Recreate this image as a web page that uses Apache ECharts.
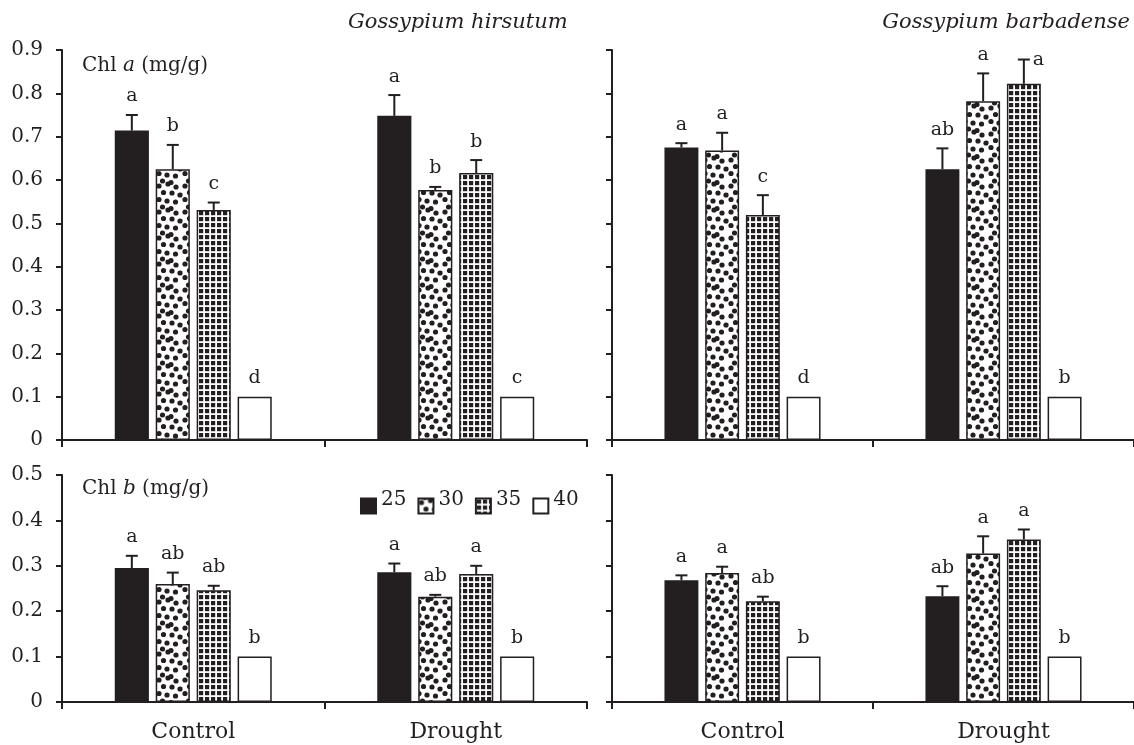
<!DOCTYPE html>
<html>
<head>
<meta charset="utf-8">
<script src="https://cdn.jsdelivr.net/npm/echarts@6/dist/echarts.min.js"></script>
<style>
html,body{margin:0;padding:0;background:#fff;}
#chart{width:1134px;height:745px;}
</style>
</head>
<body>
<div id="chart"></div>
<script>
// ---------- data ----------
const categories = ['Control', 'Drought'];
const temps = ['25', '30', '35', '40'];
const chlATicks = [0, 0.9, 0.1];   // min, max, interval
const chlBTicks = [0, 0.5, 0.1];

// rows: [Control, Drought]; columns: temps 25, 30, 35, 40
const hirsutumChlA = [[0.714, 0.625, 0.531, 0.100], [0.748, 0.577, 0.616, 0.100]];
const hirsutumChlAErr = [[0.036, 0.056, 0.017, 0], [0.048, 0.007, 0.030, 0]];
const hirsutumChlALetters = [['a', 'b', 'c', 'd'], ['a', 'b', 'b', 'c']];

const barbadenseChlA = [[0.675, 0.668, 0.519, 0.100], [0.625, 0.782, 0.822, 0.100]];
const barbadenseChlAErr = [[0.010, 0.041, 0.046, 0], [0.048, 0.064, 0.056, 0]];
const barbadenseChlALetters = [['a', 'a', 'c', 'd'], ['ab', 'a', 'a', 'b']];

const hirsutumChlB = [[0.295, 0.260, 0.246, 0.100], [0.286, 0.232, 0.282, 0.100]];
const hirsutumChlBErr = [[0.027, 0.025, 0.010, 0], [0.019, 0.004, 0.018, 0]];
const hirsutumChlBLetters = [['a', 'ab', 'ab', 'b'], ['a', 'ab', 'a', 'b']];

const barbadenseChlB = [[0.268, 0.284, 0.222, 0.100], [0.233, 0.327, 0.358, 0.100]];
const barbadenseChlBErr = [[0.011, 0.014, 0.010, 0], [0.022, 0.038, 0.022, 0]];
const barbadenseChlBLetters = [['a', 'a', 'ab', 'b'], ['ab', 'a', 'a', 'b']];

// ---------- style ----------
const INK = '#231f20';
const FONT = 'DejaVu Serif';
const BAR_FRAC = 0.13;
const BAR_GAP = 0.2;
// letters drawn beside the error cap instead of above it: "panel-category-temp"
const sideLetters = {'1-1-2': true};

function dotPattern() {
  const S = 26;
  const c = document.createElement('canvas');
  c.width = S; c.height = S;
  const g = c.getContext('2d');
  g.fillStyle = '#fff'; g.fillRect(0, 0, S, S);
  g.fillStyle = INK;
  [[3, 4], [12, 2], [20, 5], [7.5, 10.5], [16, 11], [24, 13], [3, 17.5], [11, 19],
   [19.5, 20], [6.5, 25], [15, 26.5]].forEach(p => {
    for (let dx = -S; dx <= S; dx += S) for (let dy = -S; dy <= S; dy += S) {
      g.beginPath(); g.arc(p[0] + dx, p[1] + dy, 2.6, 0, Math.PI * 2); g.fill();
    }
  });
  return c;
}
function gridPattern() {
  const c = document.createElement('canvas');
  c.width = 6; c.height = 6;
  const g = c.getContext('2d');
  g.fillStyle = '#fff'; g.fillRect(0, 0, 6, 6);
  g.fillStyle = INK; g.fillRect(1, 1, 4.2, 4.2);
  return c;
}
const fills = [
  INK,
  {image: dotPattern(), repeat: 'repeat'},
  {image: gridPattern(), repeat: 'repeat'},
  '#ffffff'
];

const panels = [
  {means: hirsutumChlA, errs: hirsutumChlAErr, letters: hirsutumChlALetters, ticks: chlATicks},
  {means: barbadenseChlA, errs: barbadenseChlAErr, letters: barbadenseChlALetters, ticks: chlATicks},
  {means: hirsutumChlB, errs: hirsutumChlBErr, letters: hirsutumChlBLetters, ticks: chlBTicks},
  {means: barbadenseChlB, errs: barbadenseChlBErr, letters: barbadenseChlBLetters, ticks: chlBTicks}
];

const grids = [
  {left: 62, top: 50, width: 525, height: 390},
  {left: 612, top: 50, width: 525, height: 390},
  {left: 62, top: 475, width: 525, height: 227},
  {left: 612, top: 475, width: 525, height: 227}
];

const xAxes = grids.map((g, i) => ({
  type: 'category', gridIndex: i, data: categories, boundaryGap: true,
  axisLine: {lineStyle: {color: INK, width: 2}},
  axisTick: {show: true, alignWithLabel: false, length: 7, lineStyle: {color: INK, width: 2}},
  axisLabel: {show: i >= 2, color: INK, fontFamily: FONT, fontSize: 22, margin: 19}
}));

const yAxes = panels.map((p, i) => ({
  type: 'value', gridIndex: i, min: p.ticks[0], max: p.ticks[1], interval: p.ticks[2],
  splitLine: {show: false},
  axisLine: {show: true, lineStyle: {color: INK, width: 2}},
  axisTick: {show: true, length: 6, lineStyle: {color: INK, width: 2}},
  axisLabel: {show: i % 2 === 0, color: INK, fontFamily: FONT, fontSize: 20, margin: 19,
    formatter: v => (v === 0 ? '0' : v.toFixed(1))}
}));

const series = [];
panels.forEach((p, pi) => {
  temps.forEach((t, k) => {
    series.push({
      type: 'bar', name: t, xAxisIndex: pi, yAxisIndex: pi,
      data: p.means.map(row => row[k]),
      barWidth: (BAR_FRAC * 100) + '%', barGap: (BAR_GAP * 100) + '%',
      itemStyle: {color: fills[k], borderColor: INK, borderWidth: 1.5},
      silent: true
    });
  });
  const data = [];
  p.means.forEach((row, c) => row.forEach((m, k) => {
    data.push([c, m, m + p.errs[c][k], k]);
  }));
  series.push({
    type: 'custom', xAxisIndex: pi, yAxisIndex: pi, z: 5, silent: true, clip: false,
    data: data,
    encode: {x: 0, y: 2},
    renderItem: function (params, api) {
      const c = api.value(0), mean = api.value(1), top = api.value(2), k = api.value(3);
      const band = api.size([1, 0])[0];
      const bw = band * BAR_FRAC, gap = bw * BAR_GAP;
      const group = 4 * bw + 3 * gap;
      const cx = api.coord([c, 0])[0] - group / 2 + k * (bw + gap) + bw / 2;
      const yMean = api.coord([c, mean])[1];
      const yTop = api.coord([c, top])[1];
      const children = [];
      if (top > mean) {
        children.push({type: 'line', shape: {x1: cx, y1: yMean, x2: cx, y2: yTop},
          style: {stroke: INK, lineWidth: 2}});
        children.push({type: 'line', shape: {x1: cx - 6, y1: yTop, x2: cx + 6, y2: yTop},
          style: {stroke: INK, lineWidth: 2}});
      }
      const letter = p.letters[c][k];
      const side = sideLetters[pi + '-' + c + '-' + k];
      children.push({type: 'text', x: side ? cx + 9 : cx, y: side ? yTop + 1 : yTop - 9,
        style: {text: letter, fill: INK, font: '19px "' + FONT + '"',
          align: side ? 'left' : 'center', verticalAlign: side ? 'middle' : 'bottom'}});
      return {type: 'group', children: children};
    }
  });
});

const titleText = {color: INK, fontFamily: FONT, fontSize: 21, fontWeight: 'normal', fontStyle: 'italic'};
const chlRich = {
  n: {color: INK, fontFamily: FONT, fontSize: 20, fontWeight: 'normal'},
  i: {color: INK, fontFamily: FONT, fontSize: 20, fontWeight: 'normal', fontStyle: 'italic'}
};

const option = {
  backgroundColor: '#fff',
  animation: false,
  title: [
    {text: 'Gossypium hirsutum', left: 348, top: 12, padding: 0, textStyle: titleText},
    {text: 'Gossypium barbadense', right: 4, top: 12, padding: 0, textStyle: titleText},
    {text: '{n|Chl }{i|a}{n| (mg/g)}', left: 82, top: 56, padding: 0,
      textStyle: {fontWeight: 'normal', rich: chlRich}},
    {text: '{n|Chl }{i|b}{n| (mg/g)}', left: 82, top: 479, padding: 0,
      textStyle: {fontWeight: 'normal', rich: chlRich}}
  ],
  legend: {
    data: temps, left: 355, top: 485, icon: 'rect', itemWidth: 15, itemHeight: 15, itemGap: 11,
    selectedMode: false,
    formatter: name => '{t|' + name + '}',
    textStyle: {color: INK, fontFamily: FONT, fontSize: 20,
      rich: {t: {color: INK, fontFamily: FONT, fontSize: 20, padding: [0, 0, 12, 0]}}}
  },
  grid: grids,
  xAxis: xAxes,
  yAxis: yAxes,
  series: series
};

const chart = echarts.init(document.getElementById('chart'), null, {renderer: 'canvas'});
chart.setOption(option);
</script>
</body>
</html>
